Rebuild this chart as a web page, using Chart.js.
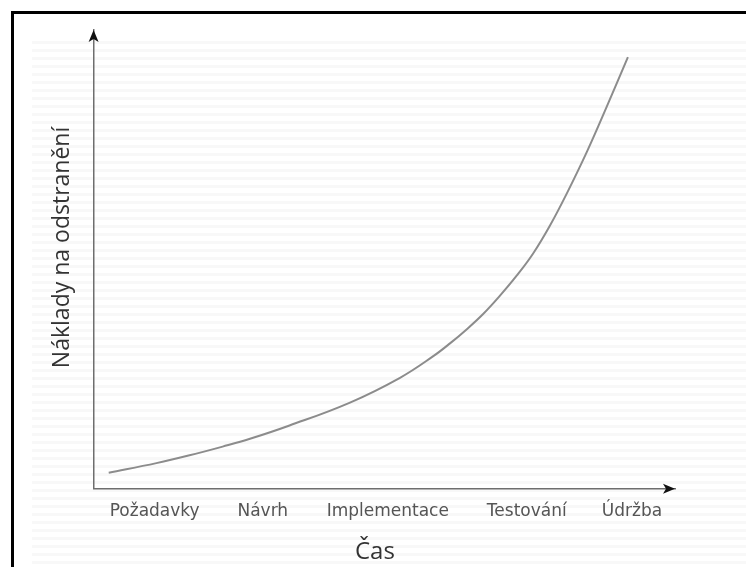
<!DOCTYPE html>
<html>
<head>
<meta charset="utf-8">
<script src="https://cdn.jsdelivr.net/npm/chart.js@4.4.1/dist/chart.umd.min.js"></script>
<style>
  html, body { margin: 0; padding: 0; background: #fff; overflow: hidden; }
  #wrap { position: relative; width: 746px; height: 567px; overflow: hidden; }
  #stripes {
    position: absolute; left: 32px; top: 36px; width: 714px; height: 531px;
    background: repeating-linear-gradient(to bottom, #fff 0px, #fff 5px, #f8f8f8 5px, #f8f8f8 8px);
  }
  #chart { position: absolute; left: 0; top: 0; }
</style>
</head>
<body>
<div id="wrap">
  <div id="stripes"></div>
  <canvas id="chart" width="746" height="567"></canvas>
</div>
<script>
'use strict';

/* ── DATA ─────────────────────────────────────────────────────── */
var phaseLabels    = ['Požadavky', 'Návrh', 'Implementace', 'Testování', 'Údržba'];
var phasePositions = [10.5, 29.1, 50.6, 74.5, 92.6];

// cost-of-fix curve (x: time 0-100, y: cost 0-100)
var curveX = [2.6, 10.8, 16.5, 22.2, 26.9, 33.7, 44.1, 52.7, 58.3, 61.3, 64.2, 67.0, 69.9, 72.8, 75.6, 78.5, 81.4, 84.9, 88.3, 91.9];
var curveY = [3.5, 5.6, 7.3, 9.2, 10.9, 13.8, 18.8, 24.2, 28.8, 31.7, 34.8, 38.1, 42.1, 46.5, 51.3, 57.4, 64.4, 73.6, 83.4, 94.1];

var xTitle = 'Čas\u00a0\u00a0\u00a0';
var yTitle = '\u00a0\u00a0\u00a0\u00a0Náklady na odstranění';

/* ── FRAME (black top/left edge of the original figure) ───────── */
var framePlugin = {
  id: 'frame',
  beforeDraw: function(chart) {
    var ctx = chart.ctx;
    ctx.save();
    ctx.fillStyle = '#000';
    ctx.fillRect(11, 11, chart.width - 11, 3);
    ctx.fillRect(11, 11, 3, chart.height - 11);
    ctx.restore();
  }
};

/* ── ARROWHEADS on the axis ends ──────────────────────────────── */
var arrowPlugin = {
  id: 'axisArrows',
  afterDraw: function(chart) {
    var a = chart.chartArea, ctx = chart.ctx;
    ctx.save();
    ctx.fillStyle = '#111';
    // y axis, pointing up
    ctx.beginPath();
    ctx.moveTo(a.left, a.top);
    ctx.lineTo(a.left - 5, a.top + 12);
    ctx.lineTo(a.left, a.top + 9);
    ctx.lineTo(a.left + 5, a.top + 12);
    ctx.closePath();
    ctx.fill();
    // x axis, pointing right
    ctx.beginPath();
    ctx.moveTo(a.right, a.bottom);
    ctx.lineTo(a.right - 12, a.bottom - 5);
    ctx.lineTo(a.right - 9, a.bottom);
    ctx.lineTo(a.right - 12, a.bottom + 5);
    ctx.closePath();
    ctx.fill();
    ctx.restore();
  }
};

var points = curveX.map(function(x, i) { return { x: x, y: curveY[i] }; });

new Chart(document.getElementById('chart'), {
  type: 'line',
  data: {
    datasets: [{
      data: points,
      borderColor: '#8c8c8c',
      borderWidth: 2,
      pointRadius: 0,
      tension: 0.4,
      fill: false
    }]
  },
  options: {
    responsive: false,
    animation: false,
    parsing: false,
    layout: { padding: { left: 40, right: 71, top: 30, bottom: 0 } },
    plugins: { legend: { display: false }, tooltip: { enabled: false } },
    scales: {
      x: {
        type: 'linear',
        min: 0, max: 100,
        grid: { display: false, drawTicks: false },
        border: { display: true, color: '#6e6e6e', width: 1.5 },
        afterBuildTicks: function(scale) {
          scale.ticks = phasePositions.map(function(v) { return { value: v }; });
        },
        ticks: {
          padding: 13,
          maxRotation: 0,
          autoSkip: false,
          color: '#555',
          font: { family: 'DejaVu Sans', size: 17 },
          callback: function(value, index) { return phaseLabels[index]; }
        },
        title: {
          display: true,
          text: xTitle,
          color: '#333',
          font: { family: 'Open Sans', size: 24 },
          padding: { top: 3, bottom: 0 }
        }
      },
      y: {
        type: 'linear',
        min: 0, max: 100,
        grid: { display: false, drawTicks: false },
        border: { display: true, color: '#6e6e6e', width: 1.5 },
        ticks: { display: false },
        title: {
          display: true,
          text: yTitle,
          color: '#333',
          font: { family: 'Open Sans', size: 23 },
          padding: { top: 9, bottom: 17 }
        }
      }
    }
  },
  plugins: [framePlugin, arrowPlugin]
});
</script>
</body>
</html>
